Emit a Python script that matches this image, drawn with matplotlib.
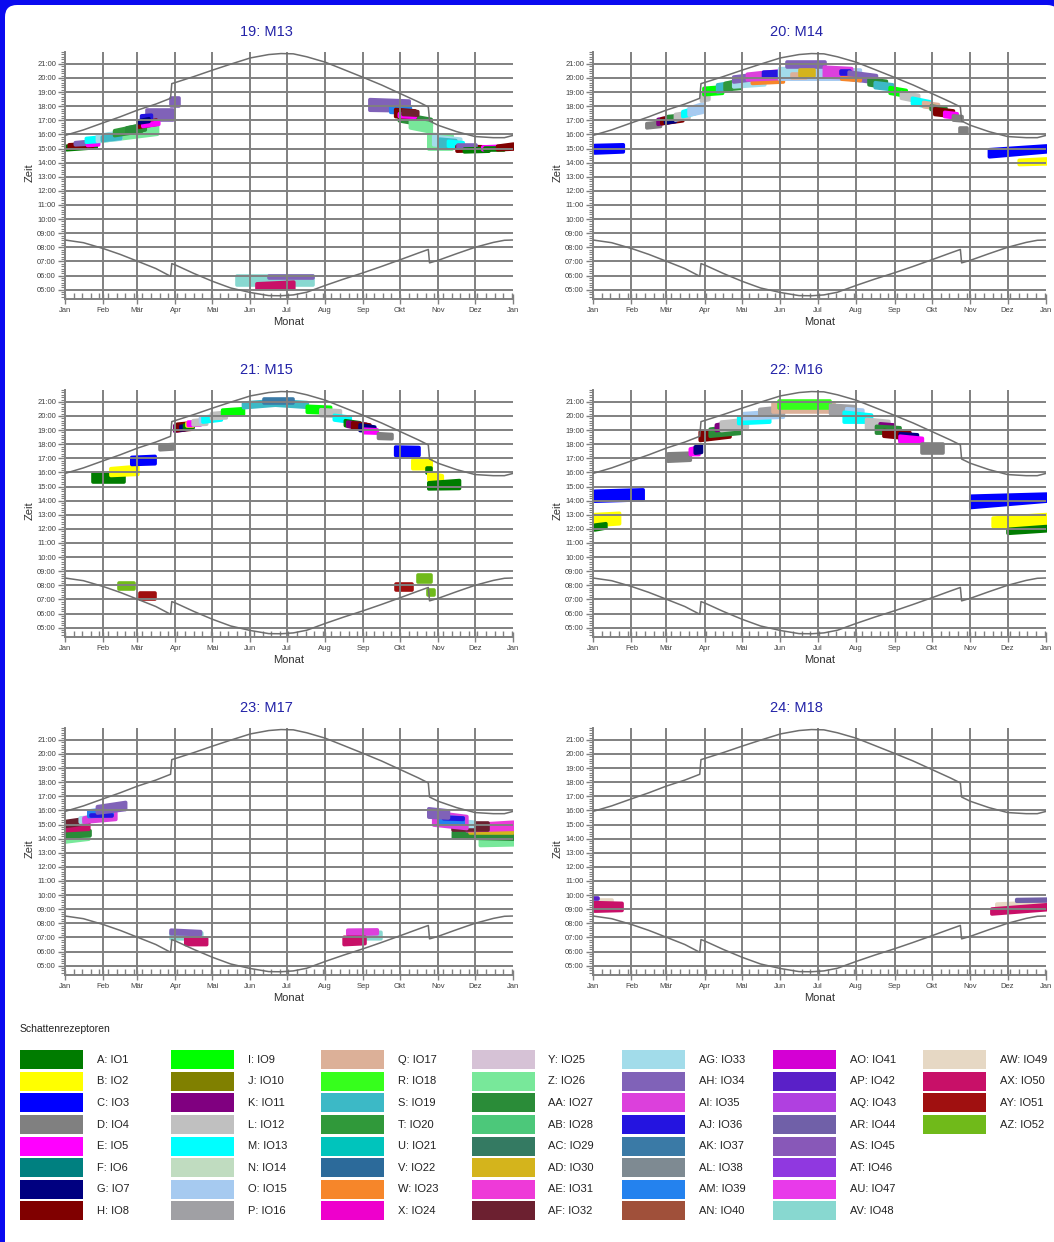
import matplotlib
matplotlib.use("Agg")
import matplotlib.pyplot as plt
from matplotlib.patches import FancyBboxPatch, Rectangle
from matplotlib.ticker import MultipleLocator

plt.rcParams['font.family'] = ['Liberation Sans', 'DejaVu Sans']

W, H = 1054, 1242

# axis categories
month_days = [0, 31, 59, 90, 120, 151, 181, 212, 243, 273, 304, 334, 365]
month_labels = ["Jan", "Feb", "Mär", "Apr", "Mai", "Jun", "Jul", "Aug",
                "Sep", "Okt", "Nov", "Dez", "Jan"]
hours = list(range(5, 22))
hour_labels = ["%02d:00" % h for h in hours]

# sunrise / sunset in hours
sun_days = [0, 15, 31, 45, 59, 74, 86, 87, 90, 105, 120, 135, 151, 166, 176,
            186, 197, 212, 227, 243, 258, 273, 288, 296, 297, 304, 319, 334,
            349, 358, 365]
sunset = [15.93, 16.32, 16.82, 17.25, 17.72, 18.15, 18.56, 19.6, 19.68, 20.1,
          20.55, 20.98, 21.42, 21.66, 21.73, 21.71, 21.5, 21.12, 20.6, 20.04,
          19.5, 18.9, 18.3, 17.95, 16.95, 16.65, 16.2, 15.85, 15.77, 15.77,
          15.93]
sunrise = [8.52, 8.33, 7.92, 7.5, 7.02, 6.5, 5.95, 6.85, 6.75, 6.15, 5.6,
           5.12, 4.8, 4.58, 4.57, 4.63, 4.82, 5.3, 5.75, 6.2, 6.65, 7.12, 7.6,
           7.85, 6.9, 7.08, 7.55, 8.0, 8.35, 8.5, 8.52]

# shadow receptors (legend)
rec_codes = ["A", "B", "C", "D", "E", "F", "G", "H",
             "I", "J", "K", "L", "M", "N", "O", "P",
             "Q", "R", "S", "T", "U", "V", "W", "X",
             "Y", "Z", "AA", "AB", "AC", "AD", "AE", "AF",
             "AG", "AH", "AI", "AJ", "AK", "AL", "AM", "AN",
             "AO", "AP", "AQ", "AR", "AS", "AT", "AU", "AV",
             "AW", "AX", "AY", "AZ"]
rec_names = ["IO%d" % (i + 1) for i in range(52)]
rec_colors = ["#007c00", "#ffff00", "#0000ff", "#808080", "#ff00ff", "#008080", "#000080", "#800000",
              "#00ff00", "#808000", "#800080", "#c0c0c0", "#00ffff", "#c0dcc0", "#a6caf0", "#a0a0a4",
              "#dcb098", "#36ff1c", "#3cb9c6", "#30993a", "#00c4bc", "#2c6a9a", "#f6862a", "#ee00cc",
              "#d6c2d6", "#78e89a", "#2a8c38", "#4cc87a", "#347a62", "#d4b41c", "#ee3ad8", "#6c2030",
              "#a2dcea", "#8062b8", "#dc40dc", "#2414e0", "#3a7aa6", "#7e8a92", "#2482ee", "#a0503a",
              "#d400d4", "#5a20c8", "#b040e0", "#7060a8", "#8858b8", "#9038e0", "#e83aea", "#88d8d0",
              "#e6d8c4", "#c81068", "#a01010", "#70ba1a"]
color_of = dict(zip(rec_codes, rec_colors))

# shadow periods: (receptor, day0, day1, low0, high0, low1, high1)
blobs_m13 = [
    ("A", 1, 25, 14.95, 15.2, 15.1, 15.35),
    ("H", 3, 22, 15.05, 15.3, 15.15, 15.4),
    ("AH", 8, 20, 15.3, 15.45, 15.35, 15.55),
    ("E", 18, 27, 15.25, 15.4, 15.3, 15.45),
    ("M", 17, 29, 15.48, 15.75, 15.55, 15.85),
    ("Z", 29, 75, 15.55, 15.95, 16.05, 16.6),
    ("AG", 26, 45, 15.55, 15.95, 15.7, 16.2),
    ("S", 30, 45, 15.6, 15.85, 15.75, 16.05),
    ("T", 40, 62, 15.95, 16.3, 16.25, 16.7),
    ("AA", 50, 65, 16.15, 16.5, 16.35, 16.75),
    ("AH", 67, 88, 17.0, 17.75, 17.0, 17.75),
    ("AJ", 62, 70, 16.95, 17.35, 17.0, 17.4),
    ("H", 60, 74, 16.55, 16.85, 16.75, 17.05),
    ("E", 63, 76, 16.6, 16.75, 16.75, 16.9),
    ("G", 60, 68, 16.85, 17.0, 16.95, 17.15),
    ("AH", 86, 93, 18.0, 18.6, 18.0, 18.6),
    ("AH", 248, 280, 17.75, 18.5, 17.7, 18.4),
    ("AM", 265, 281, 17.6, 18.0, 17.55, 17.9),
    ("AA", 272, 298, 17.0, 17.5, 16.6, 17.1),
    ("H", 269, 285, 17.3, 17.8, 17.2, 17.7),
    ("E", 272, 285, 17.3, 17.5, 17.25, 17.45),
    ("AF", 275, 287, 17.45, 17.7, 17.4, 17.65),
    ("Z", 281, 298, 16.5, 17.0, 16.2, 16.8),
    ("Z", 296, 315, 15.0, 16.05, 15.0, 15.95),
    ("AG", 300, 322, 15.3, 15.9, 15.15, 15.7),
    ("S", 305, 318, 15.2, 15.7, 15.15, 15.6),
    ("M", 312, 324, 15.2, 15.55, 15.15, 15.45),
    ("H", 319, 345, 14.85, 15.2, 14.9, 15.15),
    ("AH", 320, 335, 15.05, 15.25, 15.05, 15.25),
    ("A", 325, 345, 14.8, 15.0, 14.85, 15.05),
    ("E", 340, 355, 14.95, 15.15, 15.0, 15.2),
    ("A", 342, 358, 14.9, 15.05, 14.9, 15.05),
    ("H", 352, 365, 14.95, 15.2, 15.0, 15.35),
    ("AV", 140, 202, 5.3, 5.95, 5.3, 5.95),
    ("AH", 166, 202, 5.85, 5.98, 5.85, 5.98),
    ("AX", 156, 186, 5.1, 5.45, 5.1, 5.57),
]

blobs_m14 = [
    ("C", 1, 24, 14.72, 15.25, 14.8, 15.3),
    ("C", 319, 365, 14.45, 14.95, 14.8, 15.22),
    ("B", 343, 365, 13.9, 14.2, 13.95, 14.3),
    ("D", 296, 301, 16.1, 16.45, 16.1, 16.45),
    ("D", 43, 54, 16.5, 16.8, 16.6, 16.9),
    ("K", 52, 62, 16.75, 17.1, 16.9, 17.25),
    ("H", 55, 72, 16.8, 17.15, 17.0, 17.4),
    ("G", 58, 66, 16.85, 17.05, 16.95, 17.15),
    ("AA", 60, 66, 17.1, 17.3, 17.15, 17.35),
    ("L", 66, 77, 17.05, 17.45, 17.2, 17.6),
    ("M", 72, 82, 17.3, 17.65, 17.5, 17.9),
    ("O", 77, 88, 17.4, 17.9, 17.6, 18.2),
    ("L", 87, 93, 18.4, 18.9, 18.5, 19.0),
    ("I", 89, 104, 18.85, 19.3, 18.95, 19.4),
    ("S", 100, 111, 19.05, 19.55, 19.15, 19.7),
    ("T", 106, 119, 19.2, 19.65, 19.3, 19.9),
    ("AG", 113, 138, 19.4, 19.9, 19.55, 20.15),
    ("AH", 113, 127, 19.75, 20.1, 19.9, 20.25),
    ("W", 128, 153, 19.65, 19.85, 19.75, 19.95),
    ("AI", 124, 151, 19.9, 20.3, 20.0, 20.55),
    ("AJ", 137, 153, 20.1, 20.45, 20.15, 20.5),
    ("O", 150, 215, 19.95, 20.7, 19.95, 20.6),
    ("AG", 150, 165, 20.15, 20.65, 20.25, 20.8),
    ("Q", 160, 172, 20.0, 20.3, 20.0, 20.3),
    ("AH", 156, 187, 20.75, 21.15, 20.75, 21.15),
    ("AD", 167, 178, 20.15, 20.6, 20.15, 20.6),
    ("AI", 186, 208, 20.1, 20.8, 20.05, 20.7),
    ("AJ", 200, 207, 20.25, 20.5, 20.25, 20.5),
    ("AH", 206, 228, 19.95, 20.45, 19.7, 20.2),
    ("W", 200, 215, 19.95, 20.05, 19.85, 19.95),
    ("AA", 222, 236, 19.55, 19.95, 19.35, 19.8),
    ("S", 227, 241, 19.35, 19.7, 19.2, 19.55),
    ("I", 239, 252, 18.95, 19.35, 18.75, 19.15),
    ("L", 248, 262, 18.6, 19.0, 18.35, 18.8),
    ("M", 257, 271, 18.2, 18.6, 17.95, 18.35),
    ("Q", 266, 278, 18.0, 18.3, 17.85, 18.15),
    ("AA", 272, 284, 17.8, 18.05, 17.6, 17.9),
    ("H", 275, 290, 17.45, 17.85, 17.3, 17.7),
    ("E", 283, 293, 17.3, 17.6, 17.2, 17.5),
    ("D", 290, 297, 17.05, 17.35, 17.0, 17.3),
]

blobs_m15 = [
    ("A", 23, 48, 15.34, 15.94, 15.34, 15.94),
    ("B", 37, 59, 15.82, 16.3, 15.9, 16.46),
    ("C", 54, 73, 16.6, 17.1, 16.65, 17.17),
    ("D", 77, 88, 17.64, 17.95, 17.7, 18.02),
    ("K", 89, 97, 18.95, 19.35, 19.05, 19.4),
    ("H", 91, 103, 19.0, 19.45, 19.1, 19.55),
    ("G", 94, 100, 19.05, 19.3, 19.1, 19.35),
    ("A", 97, 104, 19.15, 19.4, 19.2, 19.45),
    ("B", 99, 104, 19.3, 19.5, 19.3, 19.5),
    ("E", 100, 110, 19.35, 19.6, 19.4, 19.65),
    ("L", 104, 115, 19.4, 19.7, 19.45, 19.8),
    ("O", 110, 120, 19.6, 19.9, 19.7, 20.0),
    ("M", 112, 127, 19.6, 19.95, 19.75, 20.1),
    ("L", 119, 131, 19.85, 20.2, 19.9, 20.3),
    ("I", 128, 145, 20.08, 20.45, 20.15, 20.55),
    ("S", 145, 171, 20.62, 20.95, 20.8, 21.12),
    ("S", 171, 197, 20.8, 21.12, 20.65, 20.98),
    ("AK", 162, 186, 20.95, 21.17, 20.95, 21.17),
    ("I", 197, 216, 20.3, 20.72, 20.24, 20.65),
    ("L", 208, 224, 20.05, 20.48, 20.0, 20.4),
    ("M", 219, 232, 19.75, 20.08, 19.6, 19.95),
    ("A", 228, 240, 19.35, 19.7, 19.2, 19.55),
    ("K", 230, 245, 19.3, 19.6, 19.1, 19.45),
    ("H", 234, 248, 19.15, 19.55, 19.0, 19.4),
    ("G", 240, 252, 19.0, 19.4, 18.95, 19.25),
    ("E", 243, 254, 18.85, 19.1, 18.82, 19.05),
    ("D", 255, 266, 18.45, 18.78, 18.42, 18.72),
    ("C", 269, 288, 17.24, 17.83, 17.24, 17.8),
    ("B", 283, 298, 16.3, 16.9, 16.3, 16.93),
    ("A", 295, 298, 15.95, 16.3, 15.95, 16.3),
    ("B", 296, 307, 15.5, 15.98, 15.34, 15.8),
    ("A", 296, 321, 14.87, 15.3, 14.9, 15.46),
    ("AZ", 44, 56, 7.77, 8.17, 7.77, 8.17),
    ("AY", 61, 73, 7.06, 7.46, 7.06, 7.46),
    ("AY", 270, 283, 7.7, 8.12, 7.7, 8.12),
    ("AZ", 288, 298, 8.24, 8.72, 8.24, 8.72),
    ("AZ", 296, 301, 7.3, 7.7, 7.3, 7.7),
]

blobs_m16 = [
    ("C", 1, 40, 14.0, 14.7, 14.1, 14.8),
    ("B", 1, 21, 12.27, 13.05, 12.4, 13.14),
    ("A", 1, 10, 11.96, 12.3, 12.1, 12.4),
    ("C", 304, 365, 13.55, 14.35, 14.0, 14.5),
    ("B", 322, 365, 12.2, 12.8, 12.1, 13.05),
    ("A", 334, 365, 11.72, 12.0, 11.9, 12.2),
    ("D", 60, 78, 16.83, 17.35, 16.9, 17.4),
    ("E", 78, 85, 17.3, 17.7, 17.3, 17.83),
    ("G", 82, 87, 17.4, 17.85, 17.45, 17.95),
    ("H", 86, 110, 18.3, 18.9, 18.55, 19.06),
    ("AA", 94, 118, 18.6, 19.1, 18.8, 19.37),
    ("K", 99, 107, 19.0, 19.4, 19.1, 19.53),
    ("L", 103, 124, 19.0, 19.6, 19.2, 19.8),
    ("M", 117, 142, 19.5, 19.95, 19.6, 20.1),
    ("O", 121, 153, 19.84, 20.2, 19.95, 20.4),
    ("P", 134, 153, 20.1, 20.5, 20.15, 20.67),
    ("Q", 145, 194, 20.3, 20.9, 20.3, 20.9),
    ("R", 150, 191, 20.6, 21.07, 20.6, 21.07),
    ("P", 191, 210, 20.2, 20.8, 20.2, 20.7),
    ("O", 204, 217, 19.9, 20.55, 19.85, 20.45),
    ("M", 202, 224, 19.6, 20.3, 19.6, 20.1),
    ("L", 220, 238, 19.13, 19.8, 19.13, 19.65),
    ("K", 231, 242, 19.0, 19.48, 19.0, 19.4),
    ("AA", 228, 247, 18.82, 19.3, 18.82, 19.2),
    ("H", 234, 255, 18.6, 19.0, 18.42, 18.85),
    ("G", 247, 261, 18.3, 18.78, 18.3, 18.7),
    ("E", 247, 265, 18.16, 18.6, 18.16, 18.45),
    ("D", 265, 282, 17.4, 18.0, 17.4, 18.0),
]

blobs_m17 = [
    ("Z", 0, 19, 13.8, 14.3, 14.0, 14.5),
    ("AA", 0, 20, 14.15, 14.5, 14.25, 14.6),
    ("AX", 0, 19, 14.6, 14.95, 14.7, 15.1),
    ("AF", 0, 16, 14.9, 15.25, 15.1, 15.45),
    ("AG", 12, 23, 15.2, 15.5, 15.3, 15.6),
    ("AI", 15, 41, 15.2, 15.5, 15.4, 15.9),
    ("AM", 19, 38, 15.6, 16.0, 15.7, 16.15),
    ("AJ", 21, 38, 15.62, 15.7, 15.62, 15.7),
    ("AH", 26, 49, 15.85, 16.3, 16.1, 16.6),
    ("Z", 338, 365, 13.55, 14.1, 13.6, 14.27),
    ("AA", 316, 365, 14.1, 14.5, 14.0, 14.45),
    ("AD", 330, 365, 14.4, 14.6, 14.4, 14.6),
    ("AE", 327, 365, 14.6, 15.0, 14.7, 15.2),
    ("AF", 316, 345, 14.6, 15.1, 14.6, 15.1),
    ("AG", 322, 333, 14.9, 15.3, 14.9, 15.2),
    ("AI", 300, 327, 15.0, 15.9, 14.75, 15.6),
    ("AM", 305, 324, 15.2, 15.6, 15.1, 15.5),
    ("AJ", 308, 324, 15.45, 15.55, 15.4, 15.5),
    ("AH", 296, 312, 15.56, 16.15, 15.5, 16.0),
    ("AV", 86, 111, 6.94, 7.4, 6.94, 7.35),
    ("AH", 86, 110, 7.3, 7.55, 7.25, 7.45),
    ("AX", 98, 115, 6.53, 7.0, 6.53, 6.95),
    ("AV", 232, 257, 6.94, 7.35, 6.94, 7.4),
    ("AI", 230, 254, 7.25, 7.55, 7.3, 7.57),
    ("AX", 227, 244, 6.53, 7.05, 6.6, 7.05),
]

blobs_m18 = [
    ("AW", 3, 15, 9.45, 9.65, 9.45, 9.65),
    ("AX", 1, 23, 8.9, 9.5, 8.95, 9.45),
    ("AP", 0, 4, 9.72, 9.78, 9.72, 9.78),
    ("AW", 325, 365, 9.0, 9.4, 9.15, 9.55),
    ("AX", 321, 365, 8.7, 9.05, 9.0, 9.35),
    ("AR", 341, 365, 9.6, 9.72, 9.62, 9.75),
]

panel_titles = ["19: M13", "20: M14", "21: M15", "22: M16", "23: M17", "24: M18"]
panel_blobs = [blobs_m13, blobs_m14, blobs_m15, blobs_m16, blobs_m17, blobs_m18]

GRID = "#808080"

fig = plt.figure(figsize=(W / 100, H / 100), dpi=100)
fig.patch.set_facecolor("#0a0af0")
# white window area with a rounded corner inside the blue frame
fig.add_artist(FancyBboxPatch((0.05, -0.5), W / 100, H / 100 - 0.05 + 0.5,
                              boxstyle="round,pad=0,rounding_size=0.12",
                              transform=fig.dpi_scale_trans,
                              facecolor="white", edgecolor="none", zorder=-5))

lefts = [65, 593]
widths = [448, 453]
tops = [52, 390, 728]
ax_h = 247

for k, (title, blobs) in enumerate(zip(panel_titles, panel_blobs)):
    row, col = divmod(k, 2)
    ax = fig.add_axes([lefts[col] / W, 1 - (tops[row] + ax_h) / H,
                       widths[col] / W, ax_h / H])
    ax.set_facecolor("white")
    ax.set_xlim(0, 365)
    ax.set_ylim(4.34, 21.84)

    # each shadow period as a rounded band
    for code, d0, d1, lo0, hi0, lo1, hi1 in blobs:
        c = color_of[code]
        ax.fill_between([d0, d1], [lo0, lo1], [hi0, hi1], facecolor=c,
                        edgecolor=c, lw=2.6, joinstyle="round", zorder=1)

    for h in hours:
        ax.axhline(h, color=GRID, lw=1.4, zorder=2)
    for d in month_days[1:12]:
        ax.axvline(d, color=GRID, lw=1.4, zorder=2)

    ax.plot(sun_days, sunset, color="#6e6e6e", lw=1.1, zorder=3)
    ax.plot(sun_days, sunrise, color="#6e6e6e", lw=1.1, zorder=3)

    for s in ["top", "right"]:
        ax.spines[s].set_visible(False)
    for s in ["left", "bottom"]:
        ax.spines[s].set_color(GRID)
        ax.spines[s].set_linewidth(1.4)

    ax.set_xticks(month_days)
    ax.set_xticklabels(month_labels)
    ax.xaxis.set_minor_locator(MultipleLocator(7))
    ax.set_yticks(hours)
    ax.set_yticklabels(hour_labels)
    ax.yaxis.set_minor_locator(MultipleLocator(1 / 6))
    ax.tick_params(axis="x", which="major", direction="inout", length=7,
                   width=1, color=GRID, labelsize=5.5, labelcolor="#404040", pad=2.5)
    ax.tick_params(axis="x", which="minor", direction="in", length=4,
                   width=1, color=GRID)
    ax.tick_params(axis="y", which="major", direction="out", length=5,
                   width=1, color=GRID, labelsize=5.5, labelcolor="#404040", pad=1.5)
    ax.tick_params(axis="y", which="minor", direction="out", length=3,
                   width=0.8, color=GRID)

    ax.text(0.45, 1.08, title, transform=ax.transAxes, ha="center",
            va="center", fontsize=10.5, color="#2323a8")
    ax.text(-0.079, 0.51, "Zeit", transform=ax.transAxes, ha="center",
            va="center", rotation=90, fontsize=8, color="#303030")
    ax.text(0.5, -0.093, "Monat", transform=ax.transAxes, ha="center",
            va="center", fontsize=8, color="#303030")

# legend
fig.text(20 / W, 1 - 1029 / H, "Schattenrezeptoren", fontsize=7.5,
         va="center", ha="left", color="#222222")
for i, (code, name, c) in enumerate(zip(rec_codes, rec_names, rec_colors)):
    col, row = divmod(i, 8)
    x = 20 + 150.5 * col
    yc = 1059.7 + 21.6 * row
    fig.add_artist(Rectangle((x / W, 1 - (yc + 9.5) / H), 63 / W, 19 / H,
                             transform=fig.transFigure, facecolor=c,
                             edgecolor="none"))
    fig.text((x + 77) / W, 1 - yc / H, "%s: %s" % (code, name), fontsize=8,
             va="center", ha="left", color="#222222")

fig.savefig("out.png", dpi=100)
